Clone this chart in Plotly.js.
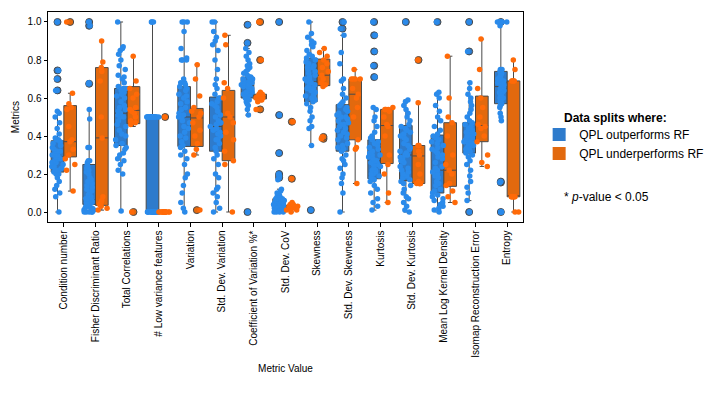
<!DOCTYPE html>
<html>
<head>
<meta charset="utf-8">
<script src="https://cdn.plot.ly/plotly-3.0.1.min.js"></script>
<style>
  html, body { margin: 0; padding: 0; background: #fff; }
  #chart { width: 714px; height: 396px; }
</style>
</head>
<body>
<div id="chart"></div>
<script>
const categories = [
    'Condition number', 'Fisher Discriminant Ratio', 'Total Correlations',
    '# Low variance features', 'Variation', 'Std. Dev. Variation',
    'Coefficient of Variation %*', 'Std. Dev. CoV', 'Skewness',
    'Std. Dev. Skewness', 'Kurtosis', 'Std. Dev. Kurtosis',
    'Mean Log Kernel Density', 'Isomap Reconstruction Error', 'Entropy'
];
const yTicks = [0, 0.2, 0.4, 0.6, 0.8, 1.0];

// box statistics, QPL outperforms RF
const blueQ1 = [0.21, 0.04, 0.35, 0, 0.345, 0.32, 0.6, 0.02, 0.58, 0.32, 0.175, 0.165, 0.1, 0.31, 0.57];
const blueMed = [0.29, 0.065, 0.52, 0.5, 0.5, 0.45, 0.665, 0.045, 0.685, 0.46, 0.27, 0.3, 0.22, 0.37, 0.66];
const blueQ3 = [0.375, 0.25, 0.65, 0.5, 0.66, 0.605, 0.71, 0.07, 0.81, 0.565, 0.38, 0.455, 0.405, 0.47, 0.74];
const blueLo = [0, 0, 0.005, 0, 0, 0, 0.51, 0, 0.35, 0, 0.01, 0, 0, 0.06, 0.48];
const blueHi = [0.53, 0.54, 1.0, 1.0, 1.0, 1.0, 0.86, 0.12, 1.0, 0.93, 0.55, 0.59, 0.63, 0.68, 1.0];

// box statistics, QPL underperforms RF
const orangeQ1 = [0.29, 0.035, 0.465, 0, 0.345, 0.27, 0.595, 0.015, 0.665, 0.38, 0.255, 0.15, 0.135, 0.37, 0.08];
const orangeMed = [0.37, 0.39, 0.535, 0, 0.495, 0.5, 0.605, 0.025, 0.72, 0.62, 0.455, 0.295, 0.22, 0.455, 0.08];
const orangeQ3 = [0.56, 0.76, 0.66, 0, 0.545, 0.64, 0.62, 0.035, 0.805, 0.7, 0.54, 0.35, 0.47, 0.61, 0.69];
const orangeLo = [0.11, 0.01, 0.45, 0, 0.3, 0, 0.58, 0, 0.66, 0.15, 0.05, 0.15, 0.05, 0.24, 0];
const orangeHi = [0.625, 0.9, 0.82, 0, 0.775, 0.93, 0.63, 0.05, 0.86, 0.75, 0.545, 0.575, 0.82, 0.91, 0.8];

// outliers drawn by the boxplot
const blueOutliers = [
    [0.64, 0.7, 0.745, 1.0], [0.675, 0.98, 1.0], [], [], [], [],
    [0, 0.89, 0.985], [0.18, 0.19, 0.2, 0.31, 0.51, 1.0], [0.01], [0.965, 1.0],
    [0.71, 0.77, 0.845, 0.93, 1.0], [1.0], [1.0], [0, 0.845, 1.0], [0, 0.155, 0.16, 1.0]
];
const orangeOutliers = [
    [1.0], [], [0], [0.5], [0.01], [], [0.54, 0.8, 1.0], [0.175, 0.475],
    [0.385, 0.395], [], [], [0.8], [], [], []
];

// individual data splits (swarm points)
const bluePoints = [
    [0, 0.08, 0.1, 0.12, 0.14, 0.16, 0.18, 0.2, 0.2, 0.21, 0.22, 0.22, 0.23, 0.24, 0.24, 0.25, 0.26, 0.26, 0.27, 0.28, 0.28, 0.29, 0.29, 0.3, 0.3, 0.31, 0.32, 0.32, 0.33, 0.34, 0.35, 0.36, 0.37, 0.38, 0.38, 0.39, 0.41, 0.44, 0.47, 0.5, 0.52, 0.53, 0.64, 0.64, 0.7, 0.745, 1.0],
    [0, 0, 0, 0, 0, 0.01, 0.01, 0.02, 0.02, 0.02, 0.03, 0.03, 0.04, 0.04, 0.05, 0.05, 0.06, 0.06, 0.07, 0.07, 0.08, 0.09, 0.1, 0.11, 0.12, 0.13, 0.14, 0.15, 0.16, 0.17, 0.18, 0.2, 0.21, 0.22, 0.23, 0.24, 0.25, 0.26, 0.27, 0.27, 0.34, 0.34, 0.49, 0.54, 0.675, 0.68, 0.98, 1.0],
    [0.005, 0.2, 0.22, 0.25, 0.27, 0.28, 0.3, 0.31, 0.33, 0.34, 0.35, 0.36, 0.38, 0.4, 0.41, 0.43, 0.45, 0.46, 0.48, 0.5, 0.5, 0.51, 0.52, 0.53, 0.54, 0.55, 0.56, 0.58, 0.6, 0.61, 0.62, 0.63, 0.64, 0.65, 0.65, 0.66, 0.68, 0.7, 0.71, 0.72, 0.75, 0.77, 0.8, 0.83, 0.85, 0.86, 0.87, 1.0],
    [0, 0, 0, 0, 0, 0, 0, 0, 0, 0, 0, 0, 0, 0, 0, 0, 0, 0, 0, 0, 0, 0, 0.5, 0.5, 0.5, 0.5, 0.5, 0.5, 0.5, 0.5, 0.5, 0.5, 0.5, 0.5, 0.5, 0.5, 0.5, 0.5, 0.5, 0.5, 0.5, 0.5, 0.5, 0.5, 0.5, 1.0, 1.0, 1.0],
    [0, 0.02, 0.05, 0.1, 0.14, 0.18, 0.2, 0.25, 0.28, 0.3, 0.32, 0.34, 0.35, 0.37, 0.39, 0.4, 0.42, 0.44, 0.45, 0.47, 0.48, 0.5, 0.5, 0.51, 0.52, 0.54, 0.55, 0.57, 0.58, 0.6, 0.61, 0.62, 0.64, 0.65, 0.66, 0.67, 0.68, 0.68, 0.7, 0.8, 0.8, 0.8, 0.81, 0.86, 0.95, 1.0, 1.0, 1.0],
    [0, 0.02, 0.05, 0.08, 0.1, 0.12, 0.13, 0.18, 0.2, 0.25, 0.28, 0.3, 0.32, 0.34, 0.36, 0.38, 0.38, 0.4, 0.41, 0.42, 0.43, 0.44, 0.45, 0.46, 0.47, 0.48, 0.5, 0.51, 0.53, 0.55, 0.56, 0.57, 0.58, 0.6, 0.6, 0.62, 0.65, 0.67, 0.7, 0.75, 0.8, 0.85, 0.88, 0.9, 0.92, 0.95, 1.0, 1.0],
    [0, 0.51, 0.54, 0.56, 0.57, 0.58, 0.59, 0.6, 0.6, 0.61, 0.62, 0.62, 0.62, 0.63, 0.63, 0.64, 0.64, 0.65, 0.65, 0.66, 0.66, 0.66, 0.67, 0.67, 0.67, 0.68, 0.68, 0.68, 0.69, 0.69, 0.7, 0.7, 0.7, 0.71, 0.71, 0.72, 0.73, 0.74, 0.75, 0.76, 0.77, 0.78, 0.8, 0.82, 0.84, 0.86, 0.89, 0.985],
    [0, 0, 0, 0, 0.01, 0.01, 0.01, 0.02, 0.02, 0.02, 0.02, 0.03, 0.03, 0.03, 0.03, 0.03, 0.04, 0.04, 0.04, 0.04, 0.05, 0.05, 0.05, 0.05, 0.05, 0.06, 0.06, 0.06, 0.06, 0.06, 0.07, 0.07, 0.07, 0.07, 0.08, 0.08, 0.09, 0.1, 0.11, 0.12, 0.17, 0.18, 0.19, 0.19, 0.2, 0.31, 0.51, 1.0],
    [0.01, 0.35, 0.44, 0.45, 0.48, 0.5, 0.53, 0.55, 0.57, 0.58, 0.59, 0.6, 0.6, 0.61, 0.62, 0.63, 0.64, 0.65, 0.65, 0.66, 0.67, 0.68, 0.68, 0.69, 0.7, 0.7, 0.71, 0.72, 0.73, 0.74, 0.75, 0.76, 0.76, 0.77, 0.78, 0.79, 0.8, 0.81, 0.82, 0.83, 0.85, 0.87, 0.88, 0.89, 0.9, 0.92, 0.94, 1.0],
    [0, 0.1, 0.15, 0.18, 0.2, 0.23, 0.25, 0.27, 0.28, 0.3, 0.32, 0.33, 0.34, 0.35, 0.36, 0.38, 0.39, 0.4, 0.41, 0.42, 0.43, 0.44, 0.45, 0.46, 0.46, 0.47, 0.48, 0.49, 0.5, 0.5, 0.51, 0.52, 0.53, 0.54, 0.55, 0.56, 0.57, 0.58, 0.6, 0.62, 0.65, 0.69, 0.7, 0.78, 0.84, 0.93, 0.965, 1.0],
    [0.01, 0.03, 0.05, 0.07, 0.1, 0.12, 0.14, 0.16, 0.17, 0.18, 0.19, 0.2, 0.2, 0.21, 0.22, 0.22, 0.23, 0.24, 0.25, 0.25, 0.26, 0.27, 0.27, 0.28, 0.29, 0.3, 0.3, 0.31, 0.32, 0.33, 0.34, 0.35, 0.36, 0.37, 0.38, 0.39, 0.4, 0.42, 0.45, 0.48, 0.5, 0.54, 0.55, 0.71, 0.77, 0.845, 0.93, 1.0],
    [0, 0.01, 0.03, 0.05, 0.07, 0.08, 0.1, 0.12, 0.14, 0.15, 0.16, 0.17, 0.18, 0.19, 0.2, 0.21, 0.22, 0.23, 0.24, 0.26, 0.27, 0.28, 0.29, 0.3, 0.3, 0.31, 0.32, 0.33, 0.34, 0.35, 0.36, 0.38, 0.39, 0.4, 0.41, 0.42, 0.43, 0.44, 0.45, 0.46, 0.48, 0.5, 0.52, 0.54, 0.56, 0.58, 0.59, 1.0],
    [0, 0.01, 0.02, 0.03, 0.04, 0.05, 0.06, 0.07, 0.08, 0.09, 0.1, 0.11, 0.12, 0.14, 0.15, 0.16, 0.18, 0.19, 0.2, 0.21, 0.22, 0.23, 0.24, 0.26, 0.28, 0.29, 0.3, 0.31, 0.32, 0.33, 0.34, 0.35, 0.36, 0.37, 0.38, 0.39, 0.4, 0.41, 0.43, 0.45, 0.48, 0.5, 0.53, 0.56, 0.6, 0.62, 0.63, 1.0],
    [0, 0.06, 0.1, 0.13, 0.16, 0.19, 0.22, 0.25, 0.27, 0.29, 0.3, 0.31, 0.32, 0.33, 0.33, 0.34, 0.35, 0.35, 0.36, 0.36, 0.37, 0.37, 0.38, 0.38, 0.39, 0.39, 0.4, 0.4, 0.41, 0.42, 0.42, 0.43, 0.44, 0.45, 0.46, 0.47, 0.48, 0.5, 0.52, 0.54, 0.56, 0.58, 0.6, 0.62, 0.65, 0.68, 0.845, 1.0],
    [0, 0, 0, 0.155, 0.16, 0.48, 0.5, 0.52, 0.55, 0.56, 0.57, 0.58, 0.59, 0.6, 0.6, 0.61, 0.62, 0.62, 0.63, 0.63, 0.64, 0.64, 0.65, 0.65, 0.66, 0.66, 0.67, 0.67, 0.68, 0.68, 0.69, 0.7, 0.7, 0.7, 0.71, 0.72, 0.73, 0.74, 0.75, 0.75, 0.98, 1.0, 1.0, 1.0, 1.0, 1.0, 1.0, 1.0]
];
const orangePoints = [
    [0.11, 0.22, 0.25, 0.28, 0.3, 0.33, 0.37, 0.38, 0.45, 0.54, 0.55, 0.57, 0.625, 1.0],
    [0.01, 0.02, 0.03, 0.04, 0.05, 0.06, 0.08, 0.39, 0.5, 0.69, 0.74, 0.76, 0.79, 0.9],
    [0, 0.46, 0.47, 0.48, 0.5, 0.52, 0.53, 0.54, 0.55, 0.6, 0.62, 0.65, 0.69, 0.82],
    [0, 0, 0, 0, 0, 0, 0, 0, 0, 0, 0, 0, 0, 0.5],
    [0.01, 0.3, 0.33, 0.36, 0.4, 0.43, 0.47, 0.5, 0.52, 0.53, 0.55, 0.61, 0.7, 0.775],
    [0, 0.25, 0.27, 0.32, 0.38, 0.42, 0.47, 0.5, 0.52, 0.6, 0.65, 0.68, 0.88, 0.93],
    [0.54, 0.58, 0.59, 0.6, 0.6, 0.6, 0.6, 0.61, 0.61, 0.62, 0.62, 0.63, 0.8, 1.0],
    [0, 0.01, 0.01, 0.02, 0.02, 0.02, 0.03, 0.03, 0.03, 0.04, 0.04, 0.05, 0.175, 0.475],
    [0.385, 0.395, 0.66, 0.67, 0.68, 0.7, 0.72, 0.74, 0.76, 0.78, 0.8, 0.82, 0.84, 0.86],
    [0.15, 0.33, 0.34, 0.38, 0.5, 0.55, 0.6, 0.62, 0.65, 0.7, 0.7, 0.7, 0.7, 0.75],
    [0.05, 0.1, 0.2, 0.25, 0.3, 0.4, 0.45, 0.46, 0.5, 0.53, 0.54, 0.54, 0.54, 0.55],
    [0.15, 0.15, 0.15, 0.15, 0.15, 0.16, 0.2, 0.25, 0.3, 0.32, 0.35, 0.35, 0.575, 0.8],
    [0.05, 0.08, 0.11, 0.14, 0.15, 0.2, 0.22, 0.25, 0.3, 0.4, 0.47, 0.5, 0.6, 0.82],
    [0.24, 0.26, 0.3, 0.37, 0.4, 0.44, 0.45, 0.46, 0.5, 0.55, 0.6, 0.65, 0.75, 0.91],
    [0, 0, 0.08, 0.08, 0.08, 0.08, 0.08, 0.08, 0.69, 0.69, 0.69, 0.69, 0.75, 0.8]
];

const blueBox = '#2e7bcc';
const blueDot = '#2a8aea';
const orangeBox = '#e2690e';
const orangeDot = '#ff6a08';
const edge = '#4a4a4a';
const font = 'Liberation Sans, Arial, sans-serif';

// flatten per-category lists into x / y arrays
function expand(lists) {
    const xs = [], ys = [];
    lists.forEach((vals, i) => vals.forEach(v => { xs.push(categories[i]); ys.push(v); }));
    return { xs, ys };
}

function statBox(q1, med, q3, lo, hi, fill, group) {
    return {
        type: 'box', x: categories, q1: q1, median: med, q3: q3,
        lowerfence: lo, upperfence: hi,
        fillcolor: fill, line: { color: edge, width: 1 },
        whiskerwidth: 0.35, boxpoints: false,
        offsetgroup: group, showlegend: false, hoverinfo: 'skip'
    };
}

function pointBox(lists, color, group, jitter, size, lineW) {
    const d = expand(lists);
    return {
        type: 'box', x: d.xs, y: d.ys,
        boxpoints: 'all', jitter: jitter, pointpos: 0,
        fillcolor: 'rgba(0,0,0,0)', line: { width: 0, color: 'rgba(0,0,0,0)' },
        marker: { color: color, size: size, line: { color: edge, width: lineW } },
        offsetgroup: group, showlegend: false, hoverinfo: 'y'
    };
}

const data = [
    statBox(blueQ1, blueMed, blueQ3, blueLo, blueHi, blueBox, 'a'),
    statBox(orangeQ1, orangeMed, orangeQ3, orangeLo, orangeHi, orangeBox, 'b'),
    pointBox(blueOutliers, blueBox, 'a', 0, 7, 1),
    pointBox(orangeOutliers, orangeBox, 'b', 0, 7, 1),
    pointBox(bluePoints, blueDot, 'a', 1, 5.5, 0),
    pointBox(orangePoints, orangeDot, 'b', 1, 5.5, 0),
    // legend patches
    { type: 'scatter', x: [null], y: [null], mode: 'markers', name: 'QPL outperforms RF',
      marker: { symbol: 'square', size: 13, color: blueBox } },
    { type: 'scatter', x: [null], y: [null], mode: 'markers', name: 'QPL underperforms RF',
      marker: { symbol: 'square', size: 13, color: orangeBox } }
];

const layout = {
    width: 714, height: 396,
    margin: { l: 48, r: 191, t: 12, b: 174, autoexpand: false },
    paper_bgcolor: '#fff', plot_bgcolor: '#fff',
    font: { family: font, size: 10, color: '#000' },
    boxmode: 'group', boxgap: 0.2, boxgroupgap: 0,
    xaxis: {
        type: 'category', categoryorder: 'array', categoryarray: categories,
        range: [-0.5, 14.5], tickangle: -90,
        ticks: 'outside', ticklen: 3.5, tickcolor: '#000',
        showline: true, mirror: true, linecolor: '#000', linewidth: 1,
        showgrid: false, zeroline: false,
        title: { text: 'Metric Value', font: { size: 10 }, standoff: 8 }
    },
    yaxis: {
        range: [-0.0526, 1.0526], tickvals: yTicks, tickformat: '.1f',
        ticks: 'outside', ticklen: 3.5, tickcolor: '#000',
        showline: true, mirror: true, linecolor: '#000', linewidth: 1,
        showgrid: false, zeroline: false,
        title: { text: 'Metrics', font: { size: 10 }, standoff: 6 }
    },
    legend: {
        x: 1.034, y: 0.486, xanchor: 'left', yanchor: 'top',
        font: { size: 12 }, itemwidth: 30, tracegroupgap: 0,
        bgcolor: 'rgba(0,0,0,0)'
    },
    annotations: [
        {
            xref: 'paper', yref: 'paper', x: 1.082, y: 0.495,
            xanchor: 'left', yanchor: 'middle', showarrow: false,
            text: '<b>Data splits where:</b>', font: { size: 12 }
        },
        {
            xref: 'paper', yref: 'paper', x: 1.082, y: 0.119,
            xanchor: 'left', yanchor: 'middle', showarrow: false,
            text: '* <i>p</i>-value &lt; 0.05', font: { size: 12 }
        }
    ]
};

Plotly.newPlot('chart', data, layout, { staticPlot: true });
</script>
</body>
</html>
